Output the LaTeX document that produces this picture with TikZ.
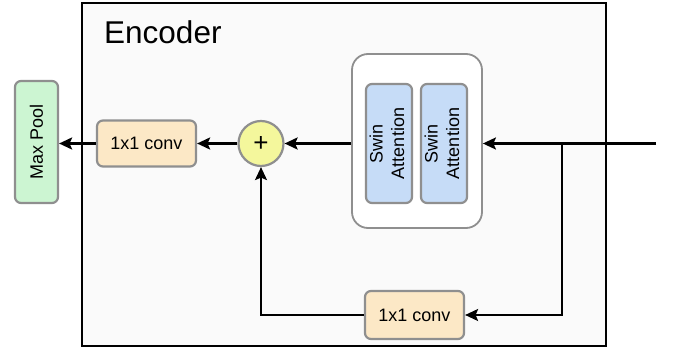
\documentclass[tikz,border=0pt]{standalone}
\usepackage{fontspec}
\setmainfont{Liberation Sans}
\usetikzlibrary{arrows.meta}
\definecolor{encfill}{HTML}{FAFAFA}
\definecolor{poolfill}{HTML}{CCF5D2}
\definecolor{convfill}{HTML}{FCE8C6}
\definecolor{plusfill}{HTML}{F4F79C}
\definecolor{swinfill}{HTML}{C6DCF7}
\definecolor{bordergray}{HTML}{8F8F8F}
\tikzset{
  blk/.style={draw=bordergray, line width=2.2pt, rounded corners=6pt, inner sep=0pt, align=center,
    font=\fontsize{18}{21.5}\selectfont},
  conn/.style={draw=black, line width=2.4pt, -{Stealth[length=13pt,width=12pt,inset=2.5pt]}},
}
\begin{document}
\begin{tikzpicture}[x=1pt,y=-1pt]
\useasboundingbox (0,0) rectangle (673,348);
\node[draw=black, line width=2.2pt, fill=encfill, minimum width=524pt, minimum height=343pt, inner sep=0pt] (enc) at (344,174.5) {};
\node[anchor=base west, inner sep=0pt, font=\fontsize{31.5}{36}\selectfont] (enclabel) at (104,43) {Encoder};
\node[blk, fill=poolfill, minimum width=43pt, minimum height=122pt] (pool) at (36.5,142) {\rotatebox{90}{Max Pool}};
\node[blk, fill=convfill, minimum width=99pt, minimum height=46pt] (conv1) at (146.5,143.5) {1x1 conv};
\node[circle, draw=bordergray, line width=2.2pt, fill=plusfill, minimum size=45pt, inner sep=0pt, font=\fontsize{26}{26}\selectfont] (plus) at (261,143.5) {+};
\node[draw=bordergray, line width=1.8pt, fill=white, rounded corners=16pt, minimum width=130pt, minimum height=174pt, inner sep=0pt] (swin) at (417,141) {};
\node[blk, fill=swinfill, minimum width=46pt, minimum height=119pt] (sa1) at (389,143.5) {\rotatebox{90}{\begin{tabular}{@{}c@{}}Swin\\Attention\end{tabular}}};
\node[blk, fill=swinfill, minimum width=46pt, minimum height=119pt] (sa2) at (444,143.5) {\rotatebox{90}{\begin{tabular}{@{}c@{}}Swin\\Attention\end{tabular}}};
\node[blk, fill=convfill, minimum width=99pt, minimum height=48pt] (conv2) at (414.5,315) {1x1 conv};
\coordinate (in) at (656,143.5);
\coordinate (branch) at (562,143.5);
\draw[conn] (in) -- (swin.east |- in);
\draw[conn, line width=2pt] (branch) |- (conv2.east);
\draw[conn] (swin.west |- plus.center) -- (plus.east);
\draw[conn, line width=2pt] (conv2.west) -| (plus.south);
\draw[conn] (plus.west) -- (conv1.east);
\draw[conn] (conv1.west) -- (pool.east |- conv1.west);
\end{tikzpicture}
\end{document}
